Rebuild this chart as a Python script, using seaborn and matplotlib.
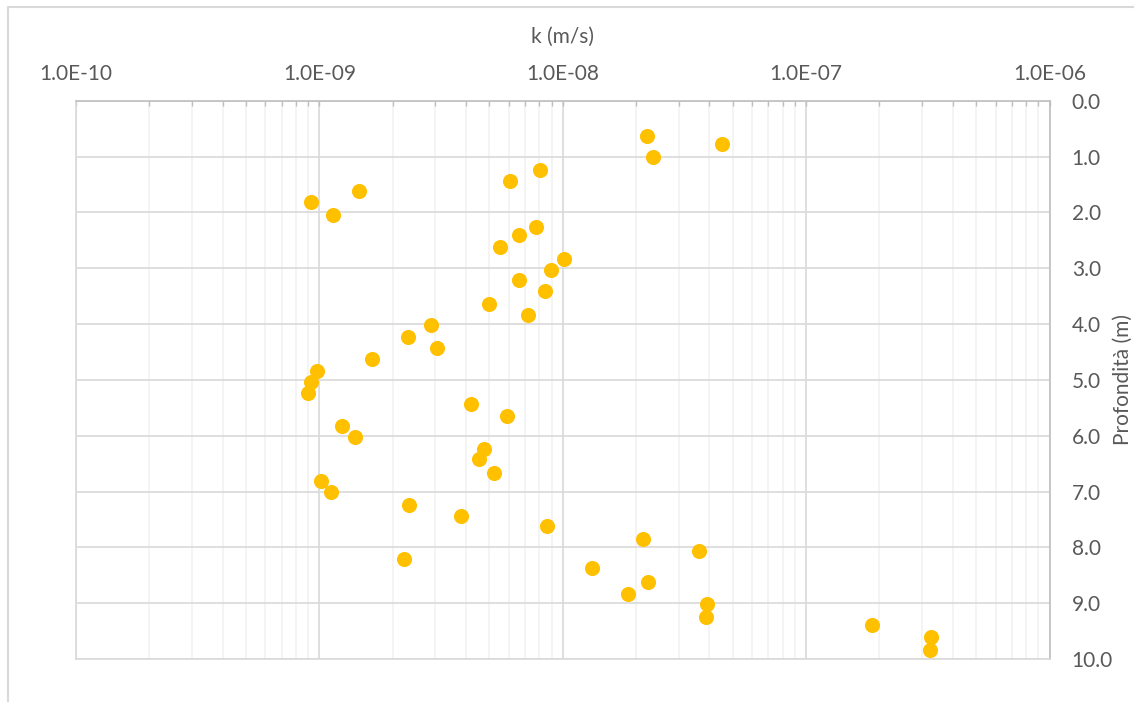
import numpy as np
import pandas as pd
import matplotlib
matplotlib.use("Agg")
import matplotlib.pyplot as plt
import matplotlib.ticker as mticker
from matplotlib.lines import Line2D
import seaborn as sns

# permeabilità k (m/s) e profondità (m)
k_values = [
    6.09e-9, 8.06e-9, 9.2e-10, 1.14e-9, 1.45e-9, 5.52e-9, 6.61e-9, 7.76e-9,
    8.97e-9, 6.63e-9, 8.48e-9, 4.96e-9, 7.17e-9, 2.87e-9, 2.32e-9, 3.05e-9,
    1.64e-9, 9.78e-10, 9.2e-10, 9.0e-10,
    1.01e-8, 2.21e-8, 2.34e-8, 4.52e-8,
    4.2e-9, 5.88e-9, 1.24e-9, 1.40e-9, 4.75e-9, 4.54e-9, 5.21e-9, 1.02e-9,
    1.12e-9, 2.34e-9, 3.82e-9, 8.64e-9, 2.22e-9,
    2.13e-8, 3.63e-8, 1.32e-8, 2.25e-8, 1.86e-8, 3.92e-8, 3.89e-8,
    1.86e-7, 3.26e-7, 3.23e-7,
]
depth_values = [
    1.44, 1.24, 1.81, 2.04, 1.62, 2.62, 2.41, 2.27,
    3.04, 3.22, 3.41, 3.64, 3.84, 4.01, 4.24, 4.43,
    4.62, 4.84, 5.04, 5.24,
    2.84, 0.64, 1.01, 0.78,
    5.44, 5.65, 5.83, 6.03, 6.23, 6.42, 6.67, 6.82,
    7.01, 7.25, 7.43, 7.61, 8.20,
    7.85, 8.06, 8.37, 8.62, 8.84, 9.01, 9.25,
    9.39, 9.60, 9.83,
]
x_ticks = [1e-10, 1e-9, 1e-8, 1e-7, 1e-6]
y_ticks = [0, 1, 2, 3, 4, 5, 6, 7, 8, 9, 10]

df = pd.DataFrame({"k": k_values, "depth": depth_values})

sns.set_style("white")
plt.rcParams["font.family"] = ["Lato", "DejaVu Sans"]

text_color = "#595959"
grid_major = "#D9D9D9"
grid_minor = "#F2F2F2"
axis_color = "#BFBFBF"
fs = 15

fig = plt.figure(figsize=(11.34, 7.02), dpi=100)
ax = fig.add_axes([76 / 1134, 1 - 659 / 702, (1049.5 - 76) / 1134, (659 - 100.7) / 702])

sns.scatterplot(data=df, x="k", y="depth", ax=ax, color="#FFC000",
                s=118, linewidth=0, zorder=3)

ax.set_xscale("log")
ax.set_xlim(1e-10, 1e-6)
ax.set_ylim(10, 0)

# asse x in alto, asse y a destra (come in Excel)
ax.xaxis.set_ticks_position("top")
ax.xaxis.set_label_position("top")
ax.yaxis.set_ticks_position("right")
ax.yaxis.set_label_position("right")

ax.set_xticks(x_ticks)
ax.xaxis.set_major_formatter(mticker.FuncFormatter(lambda v, p: f"{v:.1E}"))
ax.xaxis.set_minor_locator(mticker.LogLocator(base=10, subs=np.arange(2, 10)))
ax.xaxis.set_minor_formatter(mticker.NullFormatter())
ax.set_yticks(y_ticks)
ax.yaxis.set_major_formatter(mticker.FuncFormatter(lambda v, p: f"{v:.1f}"))

ax.tick_params(axis="x", which="both", direction="in", length=3.5, width=1,
               color=axis_color, labelsize=fs, labelcolor=text_color, pad=12)
ax.tick_params(axis="y", which="both", length=0, labelsize=fs,
               labelcolor=text_color, pad=16)

ax.grid(which="major", axis="both", color=grid_major, linewidth=1.2)
ax.grid(which="minor", axis="x", color=grid_minor, linewidth=1.2)
ax.set_axisbelow(True)

for side in ["top", "right"]:
    ax.spines[side].set_color(axis_color)
    ax.spines[side].set_linewidth(1.2)
for side in ["left", "bottom"]:
    ax.spines[side].set_color(grid_major)
    ax.spines[side].set_linewidth(1.2)

ax.set_xlabel("k (m/s)", fontsize=fs, color=text_color, labelpad=15)
ax.set_ylabel("Profondità (m)", fontsize=fs, color=text_color, labelpad=0)

# bordo dell'area del grafico
fig.add_artist(Line2D([7.5 / 1134, 1], [1 - 6.5 / 702] * 2, color=grid_major, lw=1.5))
fig.add_artist(Line2D([7.5 / 1134] * 2, [0, 1 - 6.5 / 702], color=grid_major, lw=1.5))

fig.savefig("out.png", dpi=100)
